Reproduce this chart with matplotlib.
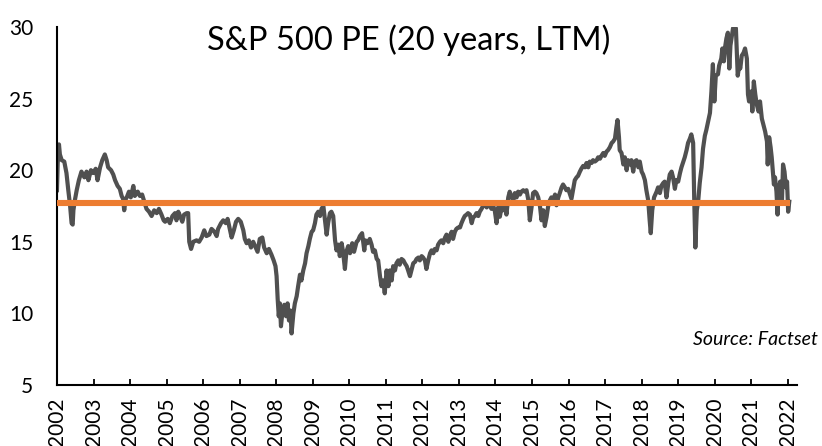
import matplotlib
matplotlib.use("Agg")
from matplotlib import pyplot as plt

"""
S&P 500 trailing (LTM) PE ratio over 20 years, with the period average drawn across.
Values read off the reference chart by eye (decimal year, PE).
"""
# ######################################### Data #####################################################################

years = [2002.00, 2002.02, 2002.055, 2002.08, 2002.13, 2002.20, 2002.26, 2002.31, 2002.36, 2002.40, 2002.43, 2002.45,
         2002.49, 2002.54, 2002.60, 2002.67, 2002.75, 2002.81, 2002.86, 2002.93, 2002.99, 2003.06, 2003.11, 2003.18,
         2003.24, 2003.31, 2003.36, 2003.40, 2003.48, 2003.54, 2003.59, 2003.66, 2003.72, 2003.77, 2003.81, 2003.84,
         2003.88, 2003.91, 2003.97, 2004.02, 2004.09, 2004.13, 2004.21, 2004.27, 2004.33, 2004.39, 2004.45, 2004.52,
         2004.59, 2004.66, 2004.73, 2004.79, 2004.86, 2004.92,
         # 2005 - 2007
         2004.96, 2005.03, 2005.09, 2005.16, 2005.23, 2005.27, 2005.32, 2005.37, 2005.43, 2005.48, 2005.55, 2005.59,
         2005.62, 2005.67, 2005.73, 2005.82, 2005.89, 2005.96, 2006.03, 2006.09, 2006.17, 2006.23, 2006.31, 2006.37,
         2006.41, 2006.49, 2006.55, 2006.62, 2006.67, 2006.73, 2006.78, 2006.84, 2006.90, 2006.96, 2007.03, 2007.10,
         2007.14, 2007.19, 2007.25, 2007.31, 2007.37, 2007.44, 2007.49, 2007.55, 2007.62, 2007.67, 2007.74, 2007.80,
         2007.87, 2007.93, 2007.98,
         # 2008 - 2010
         2008.01, 2008.04, 2008.07, 2008.10, 2008.13, 2008.17, 2008.22, 2008.27, 2008.31, 2008.35, 2008.39, 2008.42,
         2008.47, 2008.51, 2008.56, 2008.60, 2008.65, 2008.69, 2008.74, 2008.79, 2008.83, 2008.88, 2008.92, 2008.97,
         2009.01, 2009.06, 2009.10, 2009.15, 2009.20, 2009.24, 2009.29, 2009.33, 2009.38, 2009.42, 2009.47, 2009.51,
         2009.56, 2009.61, 2009.65, 2009.70, 2009.74, 2009.79, 2009.83, 2009.88, 2009.92, 2009.97, 2010.02, 2010.08,
         2010.13, 2010.20, 2010.24, 2010.29, 2010.35, 2010.41, 2010.44, 2010.50, 2010.56, 2010.61, 2010.65, 2010.70,
         2010.75, 2010.79, 2010.84, 2010.88, 2010.93, 2010.97,
         # 2011 - 2013
         2011.02, 2011.07, 2011.11, 2011.16, 2011.20, 2011.25, 2011.29, 2011.34, 2011.38, 2011.43, 2011.48, 2011.52,
         2011.57, 2011.61, 2011.66, 2011.70, 2011.75, 2011.80, 2011.84, 2011.89, 2011.93, 2011.98, 2012.02, 2012.07,
         2012.11, 2012.16, 2012.21, 2012.25, 2012.30, 2012.34, 2012.39, 2012.43, 2012.48, 2012.52, 2012.57, 2012.62,
         2012.66, 2012.71, 2012.75, 2012.80, 2012.84, 2012.89, 2012.93, 2012.98, 2013.03, 2013.07, 2013.12, 2013.16,
         2013.21, 2013.25, 2013.30, 2013.35, 2013.39, 2013.44, 2013.48, 2013.53, 2013.57, 2013.62, 2013.66, 2013.71,
         2013.76, 2013.80, 2013.85, 2013.89, 2013.94,
         # 2014 - 2016
         2013.98, 2014.03, 2014.08, 2014.12, 2014.17, 2014.21, 2014.26, 2014.30, 2014.35, 2014.39, 2014.44, 2014.49,
         2014.53, 2014.58, 2014.62, 2014.67, 2014.71, 2014.76, 2014.80, 2014.85, 2014.90, 2014.94, 2014.99, 2015.03,
         2015.08, 2015.12, 2015.17, 2015.22, 2015.26, 2015.31, 2015.35, 2015.40, 2015.44, 2015.49, 2015.53, 2015.58,
         2015.63, 2015.67, 2015.72, 2015.76, 2015.81, 2015.85, 2015.90, 2015.94, 2015.99, 2016.04, 2016.08, 2016.13,
         2016.17, 2016.22, 2016.26, 2016.31, 2016.35, 2016.40, 2016.45, 2016.49, 2016.54, 2016.58, 2016.63, 2016.67,
         2016.72, 2016.77, 2016.81, 2016.86, 2016.90, 2016.95,
         # 2017 - 2019
         2016.99, 2017.04, 2017.08, 2017.13, 2017.18, 2017.22, 2017.27, 2017.31, 2017.34, 2017.38, 2017.40, 2017.45,
         2017.50, 2017.54, 2017.59, 2017.63, 2017.68, 2017.72, 2017.77, 2017.81, 2017.86, 2017.91, 2017.95, 2018.00,
         2018.04, 2018.09, 2018.13, 2018.18, 2018.22, 2018.25, 2018.29, 2018.34, 2018.41, 2018.45, 2018.50, 2018.54,
         2018.59, 2018.63, 2018.68, 2018.73, 2018.77, 2018.82, 2018.86, 2018.91, 2018.95, 2019.00, 2019.05, 2019.09,
         2019.14, 2019.18, 2019.23, 2019.27, 2019.32, 2019.36, 2019.41, 2019.44, 2019.47, 2019.51, 2019.55, 2019.59,
         2019.64, 2019.68, 2019.73, 2019.77, 2019.82, 2019.87, 2019.91,
         # 2020 - 2022
         2019.95, 2019.99, 2020.03, 2020.09, 2020.12, 2020.18, 2020.21, 2020.25, 2020.29, 2020.32, 2020.36, 2020.40,
         2020.43, 2020.47, 2020.50, 2020.54, 2020.58, 2020.60, 2020.63, 2020.67, 2020.70, 2020.74, 2020.79, 2020.83,
         2020.88, 2020.91, 2020.94, 2021.00, 2021.03, 2021.07, 2021.11, 2021.15, 2021.20, 2021.24, 2021.29, 2021.33,
         2021.38, 2021.43, 2021.45, 2021.49, 2021.53, 2021.56, 2021.59, 2021.62, 2021.65, 2021.69, 2021.72, 2021.74,
         2021.79, 2021.84, 2021.87, 2021.91, 2021.95, 2021.98, 2022.01, 2022.04]

pe = [18.6, 20.5, 21.8, 21.1, 20.7, 20.6, 19.8, 18.6, 17.5, 16.3, 16.2, 17.2,
      17.9, 18.6, 19.3, 19.9, 19.5, 19.9, 19.3, 20.0, 19.8, 20.1, 19.3, 20.2,
      20.7, 21.1, 20.7, 20.2, 20.0, 19.7, 19.3, 18.9, 18.7, 18.2, 18.0, 17.2,
      18.0, 18.1, 18.5, 18.1, 18.9, 18.2, 18.5, 18.2, 18.3, 17.8, 17.3, 17.1,
      16.8, 17.2, 17.0, 17.3, 16.9, 16.5,
      # 2005 - 2007
      16.4, 16.6, 16.3, 16.8, 17.0, 16.5, 17.1, 16.8, 16.4, 16.9, 17.0, 17.0,
      15.0, 14.5, 15.0, 15.1, 15.0, 15.3, 15.8, 15.4, 15.5, 15.9, 15.7, 15.4,
      15.9, 16.3, 16.5, 16.3, 16.6, 15.9, 15.3, 15.8, 16.4, 16.6, 16.4, 15.8,
      15.2, 14.9, 15.1, 14.6, 15.0, 14.6, 14.3, 15.2, 15.3, 14.6, 14.2, 14.5,
      14.1, 13.7, 13.3,
      # 2008 - 2010
      12.6, 11.0, 9.8, 10.7, 9.1, 10.1, 10.6, 9.8, 10.7, 9.5, 10.2, 8.6,
      10.0, 10.7, 11.2, 11.9, 12.7, 12.3, 13.0, 13.5, 14.2, 14.7, 15.2, 15.7,
      15.8, 16.3, 16.9, 17.1, 16.8, 17.3, 17.5, 16.6, 15.5, 16.3, 17.0, 17.1,
      16.8, 15.1, 14.4, 14.8, 14.0, 14.9, 14.3, 13.1, 14.3, 14.7, 14.2, 14.9,
      14.3, 15.0, 15.1, 15.4, 15.6, 14.4, 15.1, 14.9, 15.2, 14.8, 14.3, 14.4,
      13.8, 13.7, 12.6, 11.9, 12.3, 11.4,
      # 2011 - 2013
      13.0, 11.9, 13.0, 12.3, 13.3, 13.0, 13.5, 13.7, 13.4, 13.8, 13.7, 13.5,
      13.3, 13.0, 12.6, 13.0, 13.5, 13.6, 13.8, 13.9, 13.7, 14.0, 13.9, 13.7,
      13.1, 13.7, 14.2, 14.4, 14.2, 14.5, 14.4, 14.8, 15.0, 15.1, 14.9, 15.3,
      15.5, 15.0, 15.4, 15.7, 15.2, 15.7, 15.9, 16.0, 16.0, 16.3, 16.6, 16.8,
      16.9, 17.0, 16.9, 16.3, 16.7, 16.8, 17.0, 16.8, 17.1, 17.3, 17.5, 17.6,
      17.4, 17.6, 17.5, 17.3, 17.5,
      # 2014 - 2016
      17.2, 16.3, 17.45, 16.75, 17.45, 17.2, 17.7, 16.9, 18.1, 18.5, 18.1, 17.9,
      18.4, 18.1, 18.5, 18.3, 18.5, 18.6, 18.5, 18.6, 17.9, 16.5, 17.45, 18.4,
      18.5, 18.4, 18.1, 17.45, 16.5, 17.2, 16.1, 16.75, 17.45, 17.9, 18.1, 17.9,
      18.3, 17.55, 18.1, 18.4, 18.8, 19.0, 18.8, 18.6, 18.7, 18.3, 18.0, 18.7,
      19.3, 19.5, 19.6, 19.9, 20.1, 20.3, 20.2, 20.5, 20.2, 20.6, 20.5, 20.7,
      20.6, 20.7, 20.9, 20.8, 21.0, 21.2,
      # 2017 - 2019
      21.0, 21.3, 21.4, 21.6, 21.9, 22.0, 22.2, 23.0, 23.5, 22.3, 21.4, 21.2,
      20.4, 20.9, 20.0, 20.7, 20.4, 20.7, 19.9, 20.6, 20.7, 20.2, 20.6, 19.9,
      19.7, 19.3, 18.6, 17.9, 16.5, 15.6, 17.2, 18.1, 18.5, 18.8, 18.4, 18.9,
      19.1, 19.2, 18.1, 19.1, 19.7, 19.9, 19.5, 18.7, 19.3, 19.2, 19.8, 20.2,
      20.6, 20.9, 21.4, 21.9, 22.2, 22.5, 21.9, 17.9, 14.6, 17.2, 17.9, 19.1,
      20.2, 21.5, 22.4, 22.8, 23.4, 24.0, 25.5,
      # 2020 - 2022
      27.4, 24.8, 26.6, 26.7, 27.3, 27.8, 28.5, 27.6, 28.7, 29.2, 29.6, 27.1,
      28.7, 29.4, 29.9, 30.1, 29.9, 28.5, 26.6, 27.3, 27.1, 28.0, 28.2, 28.5,
      27.8, 25.3, 24.8, 25.5, 24.1, 26.2, 25.3, 24.6, 24.1, 24.8, 23.6, 23.2,
      22.7, 22.0, 20.4, 22.3, 21.6, 20.9, 19.9, 19.0, 19.5, 18.5, 16.9, 18.3,
      19.2, 17.8, 20.4, 19.9, 18.8, 19.2, 17.1, 17.8]

avg_pe = 17.7                        # average PE over the period (orange line)
avg_span = (2002.0, 2022.07)
year_ticks = list(range(2002, 2023))
pe_ticks = [5, 10, 15, 20, 25, 30]

title = "S&P 500 PE (20 years, LTM)"
source = "Source: Factset"

# ######################################### Plot #####################################################################

plt.rcParams['font.family'] = ['Lato', 'DejaVu Sans']

fig = plt.figure(figsize=(8.22, 4.46), dpi=100)
ax = fig.add_axes([0.0693, 0.1368, 0.9002, 0.8027])

ax.plot(years, pe, color='#505050', lw=3.0, solid_joinstyle='round', zorder=2)
ax.hlines(avg_pe, avg_span[0], avg_span[1], color='#ED7D31', lw=4.4, zorder=3)

ax.set_xlim(2002, 2022.25)
ax.set_ylim(5, 30)
ax.set_xticks(year_ticks)
ax.set_xticklabels([str(y) for y in year_ticks], rotation=90)
ax.set_yticks(pe_ticks)

for side in ['top', 'right']:
    ax.spines[side].set_visible(False)
for side in ['left', 'bottom']:
    ax.spines[side].set_linewidth(1.5)
    ax.spines[side].set_color('black')

ax.tick_params(axis='x', direction='in', length=4.5, width=1.3, labelsize=15, pad=9)
ax.tick_params(axis='y', length=0, labelsize=15, pad=17)

fig.text(0.497, 0.91, title, ha='center', va='center', fontsize=23.5)
fig.text(0.995, 0.2377, source, ha='right', va='center', fontsize=14, style='italic')

fig.savefig('out.png', dpi=100)
